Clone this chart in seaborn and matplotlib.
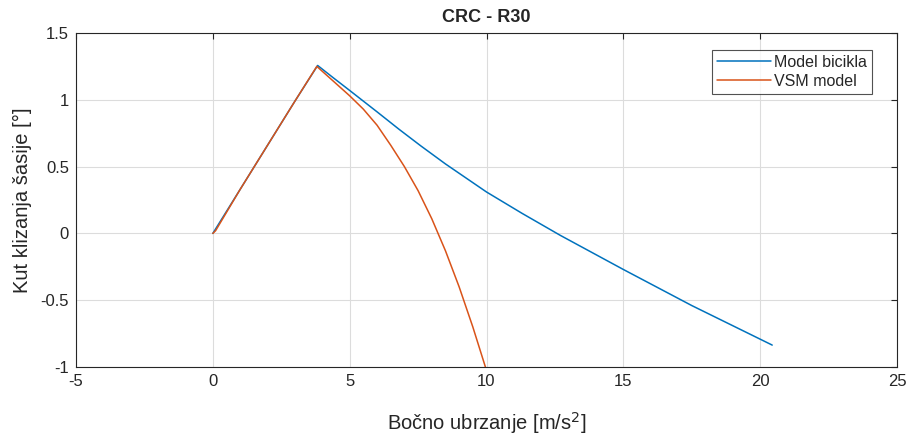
import pandas as pd
import matplotlib
matplotlib.use("Agg")
import matplotlib.pyplot as plt
import seaborn as sns

# Model bicikla (bicycle model)
bic_x = [0.0, 1.0, 2.0, 3.0, 3.83, 4.4, 5.0, 6.0, 6.8, 7.6, 8.5, 10.0, 11.3, 12.7, 15.0, 17.5, 20.44]
bic_y = [0.0, 0.33, 0.66, 0.99, 1.257, 1.165, 1.07, 0.91, 0.78, 0.655, 0.52, 0.31, 0.15, -0.015, -0.27, -0.54, -0.836]

# VSM model
vsm_x = [0.0, 0.1, 1.0, 2.0, 3.0, 3.8, 4.4, 5.0, 5.5, 6.0, 6.5, 7.0, 7.5, 8.0, 8.5, 9.0, 9.5, 9.96]
vsm_y = [0.0, 0.02, 0.33, 0.66, 0.99, 1.25, 1.14, 1.03, 0.93, 0.81, 0.66, 0.50, 0.32, 0.11, -0.13, -0.40, -0.70, -1.0]

COLORS = {"Model bicikla": "#0072BD", "VSM model": "#D95319"}

df = pd.concat([
    pd.DataFrame({"x": bic_x, "y": bic_y, "model": "Model bicikla"}),
    pd.DataFrame({"x": vsm_x, "y": vsm_y, "model": "VSM model"}),
], ignore_index=True)

sns.set_style("white")
plt.rcParams['font.family'] = ['Liberation Sans', 'DejaVu Sans']

fig = plt.figure(figsize=(9.11, 4.38), dpi=100)
ax = fig.add_axes([76 / 911, 1 - 367 / 438, (897 - 76) / 911, (367 - 33) / 438])

sns.lineplot(data=df, x="x", y="y", hue="model", palette=COLORS,
             sort=False, estimator=None, linewidth=1.1, ax=ax)

ax.set_xlim(-5, 25)
ax.set_ylim(-1, 1.5)
ax.set_xticks([-5, 0, 5, 10, 15, 20, 25])
ax.set_yticks([-1, -0.5, 0, 0.5, 1, 1.5])
ax.set_xticklabels(["-5", "0", "5", "10", "15", "20", "25"])
ax.set_yticklabels(["-1", "-0.5", "0", "0.5", "1", "1.5"])
ax.grid(True, color="#dcdcdc", linewidth=0.8)
ax.tick_params(direction="in", top=True, right=True, length=4, pad=5,
               labelsize=12, colors="#262626", width=0.8)
for s in ax.spines.values():
    s.set_color("#262626")
    s.set_linewidth(0.8)

ax.set_title("CRC - R30", fontsize=13, fontweight="bold", pad=8)
ax.set_xlabel(r"Bočno ubrzanje [m/s$^2$]", fontsize=14.5, color="#262626", labelpad=15)
ax.set_ylabel("Kut klizanja šasije [°]", fontsize=14.5, color="#262626", labelpad=6)

leg = ax.legend(loc="upper right", bbox_to_anchor=(0.9695, 0.949), borderaxespad=0,
                fontsize=11.5, frameon=True, fancybox=False, edgecolor="#262626",
                handlelength=3.4, borderpad=0.3, labelspacing=0.25, handletextpad=0.2)
leg.get_frame().set_linewidth(0.8)

fig.savefig("out.png", dpi=100)
